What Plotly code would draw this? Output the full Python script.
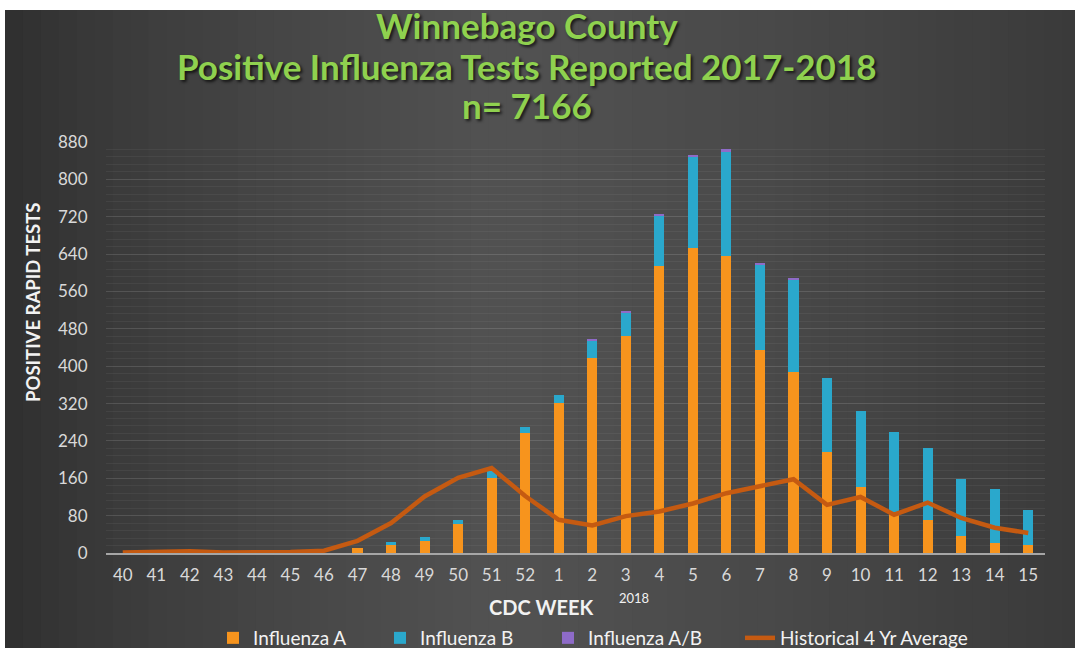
import plotly.graph_objects as go

weeks = ["40", "41", "42", "43", "44", "45", "46", "47", "48", "49", "50", "51", "52",
         "1", "2", "3", "4", "5", "6", "7", "8", "9", "10", "11", "12", "13", "14", "15"]
flu_a = [0, 0, 0, 0, 0, 0, 0, 10, 18, 25, 63, 161, 258,
         321, 417, 465, 614, 654, 635, 435, 388, 216, 141, 86, 70, 37, 21, 17]
flu_b = [0, 0, 0, 0, 0, 0, 0, 0, 6, 9, 8, 14, 11,
         18, 39, 50, 109, 195, 224, 182, 197, 158, 164, 173, 155, 121, 117, 76]
flu_ab = [0, 0, 0, 0, 0, 0, 0, 0, 0, 0, 0, 0, 0,
          0, 2, 2, 3, 4, 5, 2, 2, 0, 0, 0, 0, 0, 0, 0]
hist_avg = [1, 2, 4, 1, 1, 2, 5, 26, 64, 121, 161, 182, 122,
            71, 59, 79, 89, 106, 128, 144, 158, 103, 120, 82, 108, 75, 54, 43]

W, H = 1075, 648
# plot area in window pixels: x 106..1045, y 142..553
L, R, T, B = 106, 1075 - 1045, 142, 648 - 553
pw, ph = W - L - R, H - T - B


def px_x(p):
    return (p - L) / pw


def px_y(p):
    return (H - B - p) / ph


fig = go.Figure()
fig.add_trace(go.Bar(x=weeks, y=flu_a, name="Influenza A", width=0.3, legend="legend",
                     marker=dict(color="#F7941D", line=dict(width=0))))
fig.add_trace(go.Bar(x=weeks, y=flu_b, name="Influenza B", width=0.3, legend="legend2",
                     marker=dict(color="#2AA8CC", line=dict(width=0))))
fig.add_trace(go.Bar(x=weeks, y=flu_ab, name="Influenza A/B", width=0.3, legend="legend3",
                     marker=dict(color="#8E6BC8", line=dict(width=0))))
fig.add_trace(go.Scatter(x=weeks, y=hist_avg, name="Historical 4 Yr Average", mode="lines",
                         legend="legend4", line=dict(color="#C55A11", width=4.5)))

# dark background with horizontal gradient
shapes = []
n = 60
x0p, x1p = 5, 1080
for i in range(n):
    a = x0p + (x1p - x0p) * i / n
    b = x0p + (x1p - x0p) * (i + 1) / n + 1
    f = (i + 0.5) / n
    if f < 0.45:
        v = 46 + (82 - 46) * (f / 0.45) ** 0.7
    else:
        v = 82 - (82 - 58) * ((f - 0.45) / 0.55) ** 1.3
    v = int(v)
    shapes.append(dict(type="rect", xref="paper", yref="paper", layer="below",
                       x0=px_x(a), x1=px_x(b), y0=px_y(660), y1=px_y(10),
                       fillcolor=f"rgb({v},{v},{v})", line=dict(width=0)))
fig.update_layout(shapes=shapes)

title_font = dict(family="Lato", size=35, color="#8FD14F",
                  shadow="2px 2px 3px rgba(0,0,0,0.7)")
cx = px_x(527)
ann = [
    dict(text="<b>Winnebago County</b>", x=cx, y=px_y(25)),
    dict(text="<b>Positive Influenza Tests Reported 2017-2018</b>", x=cx, y=px_y(66)),
    dict(text="<b>n= 7166</b>", x=cx, y=px_y(105)),
]
annotations = []
for a in ann:
    annotations.append(dict(xref="paper", yref="paper", xanchor="center", yanchor="middle",
                            showarrow=False, font=title_font, **a))
annotations.append(dict(text="<b>POSITIVE RAPID TESTS</b>", xref="paper", yref="paper",
                        x=px_x(33), y=px_y(303), textangle=-90, showarrow=False,
                        xanchor="center", yanchor="middle",
                        font=dict(family="Lato", size=18.5, color="#F2F2F2")))
annotations.append(dict(text="<b>CDC WEEK</b>", xref="paper", yref="paper",
                        x=px_x(541), y=px_y(607), showarrow=False,
                        xanchor="center", yanchor="middle",
                        font=dict(family="Lato", size=20, color="#F2F2F2")))
annotations.append(dict(text="2018", xref="paper", yref="paper",
                        x=px_x(634), y=px_y(598), showarrow=False,
                        xanchor="center", yanchor="middle",
                        font=dict(family="Lato", size=13, color="#F2F2F2")))

leg_y = (H - 638) / H
leg_common = dict(orientation="h", xanchor="left", yanchor="middle", yref="container",
                  y=leg_y, xref="container",
                  font=dict(family="Lato", size=19, color="#F2F2F2"),
                  bgcolor="rgba(0,0,0,0)")
fig.update_layout(
    width=W, height=H,
    margin=dict(l=L, r=R, t=T, b=B),
    paper_bgcolor="white",
    plot_bgcolor="rgba(0,0,0,0)",
    barmode="stack",
    annotations=annotations,
    showlegend=True,
    legend=dict(x=213 / W, **leg_common),
    legend2=dict(x=380 / W, **leg_common),
    legend3=dict(x=548 / W, **leg_common),
    legend4=dict(x=740 / W, **leg_common),
    font=dict(family="Lato", color="#D9D9D9"),
)
fig.update_xaxes(type="category", showgrid=False, showline=True, linecolor="#A6A6A6",
                 linewidth=1.5, ticks="outside", ticklen=6, tickcolor="rgba(0,0,0,0)",
                 tickfont=dict(family="Lato", size=17, color="#D9D9D9"), zeroline=False)
fig.update_yaxes(range=[0, 880], dtick=80, tick0=0, showgrid=True,
                 gridcolor="rgba(255,255,255,0.13)", gridwidth=1,
                 minor=dict(dtick=16, showgrid=True, gridcolor="rgba(255,255,255,0.05)"),
                 showline=False, zeroline=False, ticks="outside", ticklen=14,
                 tickcolor="rgba(0,0,0,0)",
                 tickfont=dict(family="Lato", size=17, color="#D9D9D9"))

fig.write_html("out.html", config={"displayModeBar": False},
               post_script="document.body.style.margin='0';document.body.style.overflow='hidden';")
